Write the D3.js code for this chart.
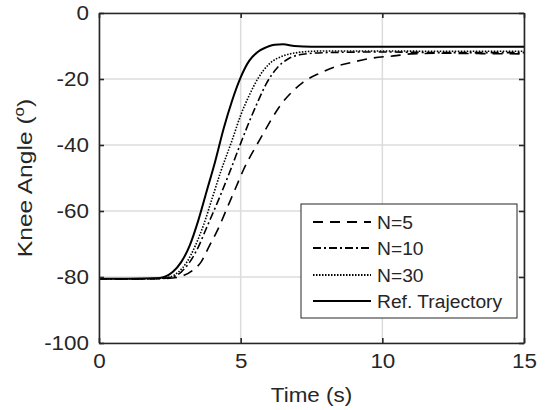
<!DOCTYPE html>
<html>
<head>
<meta charset="utf-8">
<title>Knee Angle</title>
<script src="https://cdn.jsdelivr.net/npm/d3@7"></script>
<style>
  body { margin: 0; background: #fff; }
  text { font-family: "Liberation Sans", Arial, sans-serif; fill: #262626; }
</style>
</head>
<body>
<div id="chart"></div>
<script>
// values
var xTicks = [0, 5, 10, 15];
var yTicks = [0, -20, -40, -60, -80, -100];

var refTime  = [0, 1, 2, 2.3, 2.6, 2.9, 3.2, 3.5, 3.8, 4.1, 4.4, 4.7, 5.0, 5.3, 5.6, 5.9, 6.2, 6.5, 6.9, 7.5, 9, 12, 15];
var refAngle = [-80.5, -80.5, -80.4, -80, -78.5, -75.5, -70.5, -63, -54, -45, -35, -26.5, -19.5, -14.5, -11.8, -10.4, -9.6, -9.5, -10.0, -10.2, -10.2, -10.2, -10.2];

var n30Time  = [0, 1, 2, 2.5, 2.8, 3.1, 3.4, 3.7, 4.0, 4.3, 4.7, 5.0, 5.3, 5.6, 6.0, 6.5, 7.0, 7.5, 8, 10, 12, 15];
var n30Angle = [-80.5, -80.6, -80.5, -80, -78.5, -75.5, -70.5, -64, -56, -48, -38.5, -31, -25, -20, -15.5, -13, -12, -11.6, -11.5, -11.5, -11.6, -11.6];

var n10Time  = [0, 1, 2, 2.5, 2.9, 3.2, 3.5, 3.8, 4.2, 4.6, 5.0, 5.3, 5.6, 5.9, 6.3, 6.7, 7.2, 8, 10, 12, 15];
var n10Angle = [-80.5, -80.6, -80.5, -80.2, -78.5, -75.5, -71, -65, -57, -48.5, -39.5, -33, -27, -21.5, -16.5, -13.8, -12.5, -12, -11.8, -12, -12];

var n5Time  = [0, 1, 2, 2.6, 3.0, 3.3, 3.6, 3.9, 4.2, 4.5, 4.8, 5.1, 5.5, 5.8, 6.1, 6.4, 6.8, 7.2, 7.8, 8.3, 9.0, 9.7, 10.4, 11, 12, 13.5, 15];
var n5Angle = [-80.5, -80.6, -80.5, -80.3, -79.5, -78, -75.5, -70.5, -65.5, -59.5, -53.5, -47.5, -41, -36.5, -32, -28, -24, -21, -18.2, -16.4, -14.8, -13.6, -13, -12.4, -12.2, -12.3, -12.4];

var seriesNames = ["N=5", "N=10", "N=30", "Ref. Trajectory"];
var seriesDash = ["10,7", "8,3,2,3", "1.5,1.5", null];
var seriesTime = [n5Time, n10Time, n30Time, refTime];
var seriesAngle = [n5Angle, n10Angle, n30Angle, refAngle];

var W = 545, H = 410;
var m = {left: 99, right: 21, top: 13, bottom: 67};
var iw = W - m.left - m.right, ih = H - m.top - m.bottom;
var ink = "#262626";
var sx = 1.15; // the original font runs wider than Liberation Sans

var svg = d3.select("#chart").append("svg").attr("width", W).attr("height", H);
var g = svg.append("g").attr("transform", "translate(" + m.left + "," + m.top + ")");

var x = d3.scaleLinear().domain([0, 15]).range([0, iw]);
var y = d3.scaleLinear().domain([-100, 0]).range([ih, 0]);

// grid
g.selectAll(".gx").data(xTicks).enter().append("line")
  .attr("x1", d => x(d)).attr("x2", d => x(d)).attr("y1", 0).attr("y2", ih)
  .attr("stroke", "#dcdcdc").attr("stroke-width", 1.5);
g.selectAll(".gy").data(yTicks).enter().append("line")
  .attr("y1", d => y(d)).attr("y2", d => y(d)).attr("x1", 0).attr("x2", iw)
  .attr("stroke", "#dcdcdc").attr("stroke-width", 1.5);

// curves
var line = d3.line().curve(d3.curveMonotoneX);
seriesNames.forEach(function(name, i) {
  var pts = seriesTime[i].map((t, k) => [x(t), y(seriesAngle[i][k])]);
  g.append("path").attr("d", line(pts))
    .attr("fill", "none").attr("stroke", "#000")
    .attr("stroke-width", i == 3 ? 2 : 1.6)
    .attr("stroke-dasharray", seriesDash[i]);
});

// axes (box with inward ticks on all sides)
var tl = 5;
var fmt = d => String(d);
var ax = g.append("g").attr("transform", "translate(0," + ih + ")")
  .call(d3.axisBottom(x).tickValues(xTicks).tickFormat(fmt).tickSizeInner(-tl).tickSizeOuter(0).tickPadding(11));
var ay = g.append("g")
  .call(d3.axisLeft(y).tickValues(yTicks).tickFormat(fmt).tickSizeInner(-tl).tickSizeOuter(0).tickPadding(10));
var at = g.append("g")
  .call(d3.axisTop(x).tickValues(xTicks).tickSizeInner(-tl).tickSizeOuter(0).tickFormat(""));
var ar = g.append("g").attr("transform", "translate(" + iw + ",0)")
  .call(d3.axisRight(y).tickValues(yTicks).tickSizeInner(-tl).tickSizeOuter(0).tickFormat(""));
[ax, ay, at, ar].forEach(function(a) {
  a.select(".domain").attr("stroke", ink).attr("stroke-width", 1.6);
  a.selectAll(".tick line").attr("stroke", ink).attr("stroke-width", 1.6);
});
[ax, ay].forEach(function(a) {
  a.selectAll(".tick text").style("font-size", "19.5px").attr("fill", ink)
    .attr("x", function() { return (+d3.select(this).attr("x") || 0) / sx; })
    .attr("transform", "scale(" + sx + ",1)");
});

// axis labels
svg.append("text")
  .attr("transform", "translate(" + (m.left + iw / 2) + ",402) scale(" + sx + ",1)")
  .attr("text-anchor", "middle").style("font-size", "19.5px").text("Time (s)");
var yl = svg.append("text")
  .attr("transform", "translate(32," + (m.top + ih / 2) + ") rotate(-90) scale(1.2,1)")
  .attr("text-anchor", "middle").style("font-size", "20.5px");
yl.append("tspan").text("Knee Angle (");
yl.append("tspan").attr("dy", -8).style("font-size", "14px").text("o");
yl.append("tspan").attr("dy", 8).text(")");

// legend
var lg = svg.append("g").attr("transform", "translate(301,204)");
lg.append("rect").attr("width", 216).attr("height", 114)
  .attr("fill", "#fff").attr("stroke", ink).attr("stroke-width", 1);
var rowY = [18, 44, 71, 97];
seriesNames.forEach(function(name, i) {
  lg.append("line").attr("x1", 12).attr("x2", 70).attr("y1", rowY[i]).attr("y2", rowY[i])
    .attr("stroke", "#000").attr("stroke-width", 2)
    .attr("stroke-dasharray", seriesDash[i]);
  lg.append("text").attr("transform", "translate(76," + (rowY[i] + 6.5) + ") scale(1.07,1)")
    .style("font-size", "18px").text(name);
});
</script>
</body>
</html>
